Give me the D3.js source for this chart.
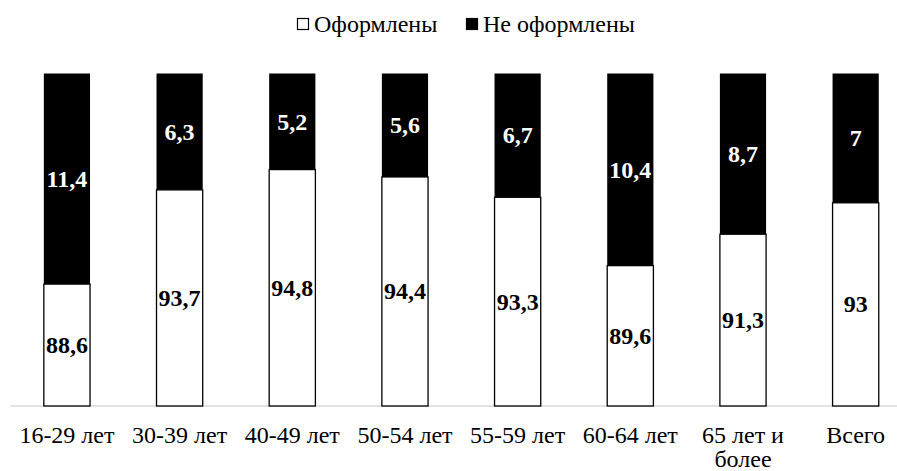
<!DOCTYPE html>
<html>
<head>
<meta charset="utf-8">
<script src="https://cdn.jsdelivr.net/npm/d3@7"></script>
<style>
  html, body { margin: 0; padding: 0; background: #fff; }
  svg text { font-family: "Liberation Serif", "Times New Roman", Tinos, serif !important; }
</style>
</head>
<body>
<svg id="chart" width="897" height="471"></svg>
<script>
const categories = ["16-29 лет", "30-39 лет", "40-49 лет", "50-54 лет", "55-59 лет", "60-64 лет", "65 лет и более", "Всего"];
const issued = [88.6, 93.7, 94.8, 94.4, 93.3, 89.6, 91.3, 93];
const notIssued = [11.4, 6.3, 5.2, 5.6, 6.7, 10.4, 8.7, 7];
const seriesNames = ["Оформлены", "Не оформлены"];
const labelText = v => String(v).replace(".", ",");
const FONT = '"Liberation Serif", "Times New Roman", Tinos, serif';

const svg = d3.select("#chart");
const x = d3.scaleBand().domain(categories).range([10.6, 912]).paddingInner(0.59).paddingOuter(0.295);
const y = d3.scaleLinear().domain([82, 100]).range([406, 73.5]).clamp(true);

const rows = categories.map((c, i) => ({ cat: c, a: issued[i], b: notIssued[i] }));

// category axis baseline
svg.append("line").attr("x1", x.range()[0]).attr("x2", x.range()[1])
  .attr("y1", y(82)).attr("y2", y(82)).attr("stroke", "#d9d9d9").attr("stroke-width", 1.5);

// stacked bars
const g = svg.append("g");
g.selectAll("rect.w").data(rows).join("rect").attr("class", "w")
  .attr("x", d => x(d.cat)).attr("width", x.bandwidth())
  .attr("y", d => y(d.a)).attr("height", d => y(82) - y(d.a))
  .attr("fill", "#fff").attr("stroke", "#000").attr("stroke-width", 1.3);
g.selectAll("rect.b").data(rows).join("rect").attr("class", "b")
  .attr("x", d => x(d.cat)).attr("width", x.bandwidth())
  .attr("y", d => y(d.a + d.b)).attr("height", d => y(d.a) - y(d.a + d.b))
  .attr("fill", "#000");

// data labels
rows.forEach(d => {
  svg.append("text").style("font-family", FONT)
    .attr("x", x(d.cat) + x.bandwidth() / 2).attr("y", (y(d.a) + y(82)) / 2 + 8)
    .attr("text-anchor", "middle").attr("font-size", 24).attr("font-weight", "bold").attr("fill", "#000")
    .text(labelText(d.a));
  svg.append("text").style("font-family", FONT)
    .attr("x", x(d.cat) + x.bandwidth() / 2).attr("y", (y(d.a) + y(d.a + d.b)) / 2 + 8)
    .attr("text-anchor", "middle").attr("font-size", 24).attr("font-weight", "bold").attr("fill", "#fff")
    .text(labelText(d.b));
});

// category labels with wrapping
categories.forEach(c => {
  const words = c.split(" ");
  const lines = [];
  let cur = "";
  words.forEach(w => {
    const t = cur ? cur + " " + w : w;
    if (t.length > 9 && cur) { lines.push(cur); cur = w; } else cur = t;
  });
  lines.push(cur);
  lines.forEach((ln, i) => {
    svg.append("text").style("font-family", FONT).attr("text-anchor", "middle").attr("font-size", 24)
      .attr("fill", "#000").attr("x", x(c) + x.bandwidth() / 2).attr("y", 443 + i * 24).text(ln);
  });
});

// legend
const legItems = [
  { name: seriesNames[0], x: 297, fill: "#fff" },
  { name: seriesNames[1], x: 466, fill: "#000" }
];
legItems.forEach(it => {
  svg.append("rect").attr("x", it.x + 0.5).attr("y", 18.5).attr("width", 11).attr("height", 11)
    .attr("fill", it.fill).attr("stroke", "#000").attr("stroke-width", 1.2);
  svg.append("text").style("font-family", FONT).attr("x", it.x + 17).attr("y", 32).attr("font-size", 24).attr("fill", "#000").text(it.name);
});
</script>
</body>
</html>
